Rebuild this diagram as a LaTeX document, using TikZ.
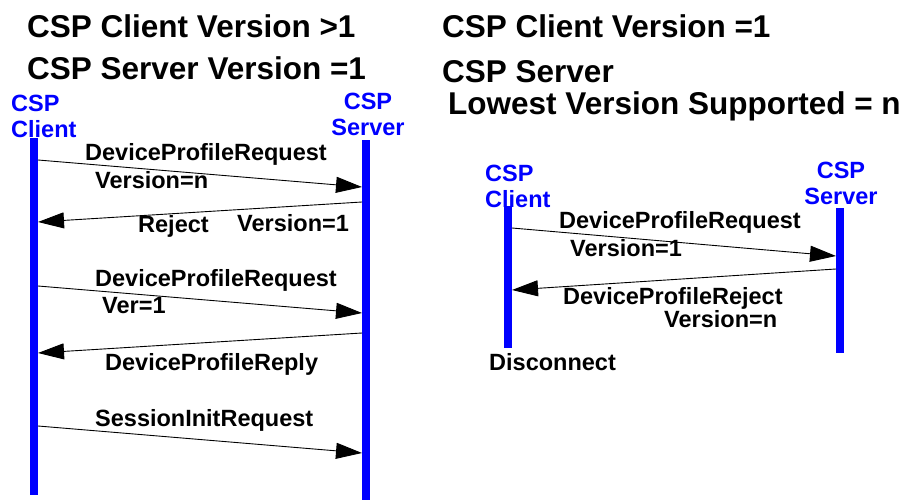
\documentclass[tikz,border=0pt]{standalone}
\usepackage{fontspec}
\setmainfont{Liberation Sans}
\usetikzlibrary{arrows.meta, positioning}

\begin{document}
\begin{tikzpicture}[
        x=1pt, y=-1pt,
        heading/.style={anchor=base west, inner sep=0pt, font=\fontsize{31.5}{37}\selectfont\bfseries},
        party/.style={inner sep=0pt, text=blue, font=\fontsize{23.5}{26}\selectfont\bfseries},
        lifeline/.style={draw=blue, line width=8pt},
        message/.style={draw=black, line width=0.9pt, -{Triangle[length=26pt, width=16pt]}},
        msgtext/.style={anchor=base west, inner sep=0pt, font=\fontsize{23.5}{26}\selectfont\bfseries}
    ]
        \useasboundingbox (0,0) rectangle (909,500);

        % Headings
        \node[heading] (hclientA) at (27,38) {CSP Client Version >1};
        \node[heading] (hserverA) at (27,80) {CSP Server Version =1};
        \node[heading] (hclientB) at (442,38) {CSP Client Version =1};
        \node[heading] (hserverB) at (442,83) {CSP Server};
        \node[heading] (hlowest) at (448,114) {Lowest Version Supported = n};

        % Left diagram: parties
        \node[party, align=left, anchor=north west] (clientA) at (11,95) {CSP\\Client};
        \node[party, align=center, anchor=north] (serverA) at (368,93) {CSP\\Server};
        \coordinate (clientAtop) at (34,138);
        \coordinate (clientAbot) at (34,495);
        \coordinate (serverAtop) at (366,140);
        \coordinate (serverAbot) at (366,500);
        \draw[lifeline] (clientAtop) -- (clientAbot);
        \draw[lifeline] (serverAtop) -- (serverAbot);

        % Left diagram: messages
        \coordinate (ca1) at (38,160);  \coordinate (sa1) at (362,187);
        \coordinate (sa2) at (362,202); \coordinate (ca2) at (38,222);
        \coordinate (ca3) at (38,286);  \coordinate (sa3) at (362,313);
        \coordinate (sa4) at (362,333); \coordinate (ca4) at (38,353);
        \coordinate (ca5) at (38,426);  \coordinate (sa5) at (362,453);
        \draw[message] (ca1) -- (sa1);
        \draw[message] (sa2) -- (ca2);
        \draw[message] (ca3) -- (sa3);
        \draw[message] (sa4) -- (ca4);
        \draw[message] (ca5) -- (sa5);

        \node[msgtext] (reqA) at (85,160) {DeviceProfileRequest};
        \node[msgtext] (verA) at (95,188) {Version=n};
        \node[msgtext] (rejA) at (138,232) {Reject};
        \node[msgtext] (rejverA) at (237,231) {Version=1};
        \node[msgtext] (req2A) at (95,286) {DeviceProfileRequest};
        \node[msgtext] (ver2A) at (102,313) {Ver=1};
        \node[msgtext] (replyA) at (105,370) {DeviceProfileReply};
        \node[msgtext] (initA) at (95,426) {SessionInitRequest};

        % Right diagram: parties
        \node[party, align=left, anchor=north west] (clientB) at (485,165) {CSP\\Client};
        \node[party, align=center, anchor=north] (serverB) at (841,162) {CSP\\Server};
        \coordinate (clientBtop) at (508,206);
        \coordinate (clientBbot) at (508,348);
        \coordinate (serverBtop) at (840,208);
        \coordinate (serverBbot) at (840,353);
        \draw[lifeline] (clientBtop) -- (clientBbot);
        \draw[lifeline] (serverBtop) -- (serverBbot);

        % Right diagram: messages
        \coordinate (cb1) at (512,228); \coordinate (sb1) at (836,256);
        \coordinate (sb2) at (836,269); \coordinate (cb2) at (512,290);
        \draw[message] (cb1) -- (sb1);
        \draw[message] (sb2) -- (cb2);

        \node[msgtext] (reqB) at (559,228) {DeviceProfileRequest};
        \node[msgtext] (verB) at (570,256) {Version=1};
        \node[msgtext] (rejB) at (563,304) {DeviceProfileReject};
        \node[msgtext] (rejverB) at (664,327) {Version=n};
        \node[msgtext] (discB) at (489,370) {Disconnect};
    \end{tikzpicture}
\end{document}
